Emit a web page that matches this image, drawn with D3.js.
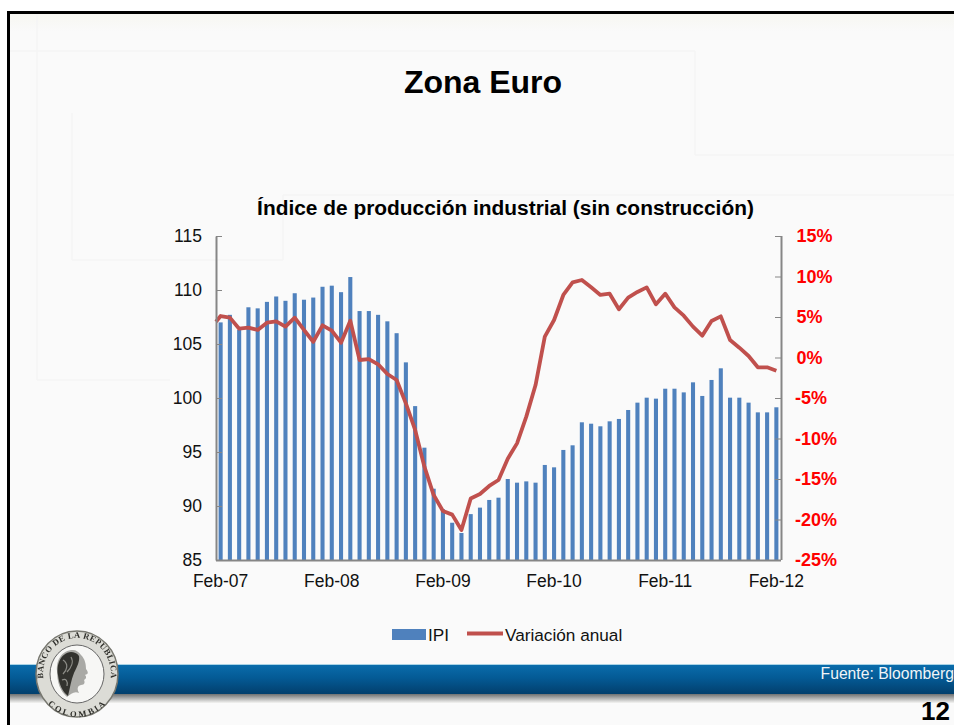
<!DOCTYPE html>
<html><head><meta charset="utf-8">
<style>html,body{margin:0;padding:0;background:#fff}svg{display:block}text{font-family:"Liberation Sans",Arial,sans-serif}</style>
<script src="https://cdn.jsdelivr.net/npm/d3@7/dist/d3.min.js"></script></head>
<body><svg id="c" width="954" height="725"></svg>
<script>
const months = ["Feb-07","Mar-07","Apr-07","May-07","Jun-07","Jul-07","Aug-07","Sep-07","Oct-07","Nov-07","Dec-07","Jan-08",
"Feb-08","Mar-08","Apr-08","May-08","Jun-08","Jul-08","Aug-08","Sep-08","Oct-08","Nov-08","Dec-08","Jan-09",
"Feb-09","Mar-09","Apr-09","May-09","Jun-09","Jul-09","Aug-09","Sep-09","Oct-09","Nov-09","Dec-09","Jan-10",
"Feb-10","Mar-10","Apr-10","May-10","Jun-10","Jul-10","Aug-10","Sep-10","Oct-10","Nov-10","Dec-10","Jan-11",
"Feb-11","Mar-11","Apr-11","May-11","Jun-11","Jul-11","Aug-11","Sep-11","Oct-11","Nov-11","Dec-11","Jan-12","Feb-12"];
const ipi = [107.0,107.7,106.3,108.4,108.3,108.9,109.4,109.0,109.7,109.1,109.3,110.3,
110.4,109.8,111.2,108.05,108.05,107.7,107.1,106.0,103.3,99.25,95.4,91.6,
89.7,88.45,87.5,89.25,89.85,90.56,90.77,92.5,92.16,92.28,92.16,93.8,
93.58,95.19,95.62,97.75,97.62,97.38,97.84,98.06,98.89,99.57,100.03,99.94,
100.86,100.86,100.52,101.45,100.19,101.67,102.75,100.03,100.03,99.57,98.67,98.67,99.14];
const variacion = [5.12,4.92,3.56,3.68,3.40,4.30,4.47,3.81,4.92,3.40,1.95,3.97,
3.31,1.83,4.55,-0.31,-0.19,-0.84,-2.04,-2.78,-5.66,-8.95,-13.48,-16.98,
-18.95,-19.4,-21.3,-17.4,-16.85,-15.86,-15.12,-12.49,-10.6,-7.3,-3.4,2.57,
4.63,7.72,9.28,9.57,8.66,7.72,7.88,5.95,7.39,8.09,8.66,6.56,
7.88,6.19,5.16,3.81,2.70,4.51,5.08,2.16,1.21,0.19,-1.21,-1.21,-1.63];
const variacionAtAxis = 4.42;
const leftTicks = [85,90,95,100,105,110,115];
const rightTicks = [-25,-20,-15,-10,-5,0,5,10,15];
const xLabels = ["Feb-07","Feb-08","Feb-09","Feb-10","Feb-11","Feb-12"];
const legendLabels = ["IPI","Variación anual"];
const titleText = "Zona Euro";
const subtitleText = "Índice de producción industrial (sin construcción)";
const sourceText = "Fuente: Bloomberg";
const pageNumber = "12";

const svg = d3.select("#c");
const defs = svg.append("defs");
const bandG = defs.append("linearGradient").attr("id","band").attr("x1",0).attr("x2",0).attr("y1",0).attr("y2",1);
[[0,"#0a6cab"],[0.45,"#045a95"],[1,"#023f6d"]].forEach(s=>bandG.append("stop").attr("offset",s[0]).attr("stop-color",s[1]));
const shG = defs.append("linearGradient").attr("id","shadow").attr("x1",0).attr("x2",0).attr("y1",0).attr("y2",1);
[[0,"#6f7172"],[1,"#f4f4f2"]].forEach(s=>shG.append("stop").attr("offset",s[0]).attr("stop-color",s[1]));
const bgG = defs.append("linearGradient").attr("id","bgTop").attr("x1",0).attr("x2",0).attr("y1",0).attr("y2",1);
[[0,"#f7f7f1"],[1,"#fafafa"]].forEach(s=>bgG.append("stop").attr("offset",s[0]).attr("stop-color",s[1]));
defs.append("filter").attr("id","soft").append("feGaussianBlur").attr("stdDeviation",0.6);

// slide background
svg.append("rect").attr("x",8).attr("y",12).attr("width",946).attr("height",713).attr("fill","#fafafa");
svg.append("rect").attr("x",8).attr("y",14).attr("width",946).attr("height",18).attr("fill","url(#bgTop)");
const faint = [[8,51,695,51],[695,51,695,155],[695,155,954,155],[37,14,37,380],[37,380,170,380],[72,113,72,260],[72,260,283,260],
[283,195,283,260],[283,195,954,195]];
svg.append("g").selectAll("line").data(faint).join("line")
  .attr("x1",d=>d[0]).attr("y1",d=>d[1]).attr("x2",d=>d[2]).attr("y2",d=>d[3])
  .attr("stroke","#f4f4f4").attr("stroke-width",1.5);

// footer band
svg.append("rect").attr("x",8).attr("y",694).attr("width",946).attr("height",9).attr("fill","url(#shadow)");
svg.append("rect").attr("x",8).attr("y",664).attr("width",946).attr("height",1).attr("fill","#a9d3e6");
svg.append("rect").attr("x",8).attr("y",665).attr("width",946).attr("height",29).attr("fill","url(#band)");
// slide frame
svg.append("path").attr("d","M8.5,725V12.5H954").attr("fill","none").attr("stroke","#000").attr("stroke-width",3);

// chart
const M = {l:216,r:781,t:236,b:560};
const x = d3.scaleBand().domain(months).range([M.l,M.r]).paddingInner(0.56).paddingOuter(0.28);
const xc = d3.scalePoint().domain(months).range([M.l+(M.r-M.l)/months.length/2, M.r-(M.r-M.l)/months.length/2]);
const yL = d3.scaleLinear().domain([85,115]).range([M.b,M.t]);
const yR = d3.scaleLinear().domain([-25,15]).range([M.b,M.t]);

svg.append("g").selectAll("rect").data(months).join("rect")
  .attr("x",d=>xc(d)-x.bandwidth()/2).attr("width",x.bandwidth())
  .attr("y",(d,i)=>yL(ipi[i])).attr("height",(d,i)=>M.b-yL(ipi[i]))
  .attr("fill","#4f81bd");

const linePts = [[M.l,yR(variacionAtAxis)]].concat(months.map((m,i)=>[xc(m),yR(variacion[i])]));
svg.append("path").attr("d",d3.line()(linePts)).attr("fill","none")
  .attr("stroke","#c0504d").attr("stroke-width",3.8).attr("stroke-linejoin","round");

const axisCol="#868686";
const axL = svg.append("g").attr("transform",`translate(${M.l},0)`).call(d3.axisLeft(yL).tickValues([]).tickSize(0));
axL.select(".domain").attr("stroke",axisCol).attr("stroke-width",2);
const gridL = svg.append("g").attr("transform",`translate(${M.l},0)`).call(d3.axisRight(yL).tickValues(leftTicks).tickSize(6).tickFormat(""));
gridL.select(".domain").remove(); gridL.selectAll("line").attr("stroke",axisCol);
const axR = svg.append("g").attr("transform",`translate(${M.r},0)`).call(d3.axisLeft(yR).tickValues(rightTicks).tickSize(6).tickFormat(""));
axR.select(".domain").attr("stroke",axisCol).attr("stroke-width",2).attr("d",`M0.5,${M.t}V${M.b}`);
axR.selectAll("line").attr("stroke",axisCol);
svg.append("line").attr("x1",M.l).attr("x2",M.r).attr("y1",M.b+.5).attr("y2",M.b+.5).attr("stroke",axisCol).attr("stroke-width",2);

svg.append("g").selectAll("text").data(leftTicks).join("text")
  .attr("x",M.l-14).attr("y",d=>yL(d)+6).attr("text-anchor","end").attr("font-size",17.5).attr("fill","#111").text(d=>d);
svg.append("g").selectAll("text").data(rightTicks).join("text")
  .attr("x",d=>d<0?795:796.5).attr("y",d=>yR(d)+6).attr("font-size",18).attr("font-weight","bold").attr("fill","#ff0000").text(d=>d+"%");
svg.append("g").selectAll("text").data(xLabels).join("text")
  .attr("x",d=>xc(d)).attr("y",587).attr("text-anchor","middle").attr("font-size",17.5).attr("fill","#111").text(d=>d);

svg.append("text").attr("x",483).attr("y",93).attr("text-anchor","middle").attr("font-size",32).attr("font-weight","bold").attr("fill","#000").text(titleText);
svg.append("text").attr("x",505.5).attr("y",215).attr("text-anchor","middle").attr("font-size",20.9).attr("font-weight","bold").attr("fill","#000").text(subtitleText);

// legend
svg.append("rect").attr("x",392).attr("y",629).attr("width",34).attr("height",11).attr("fill","#4f81bd");
svg.append("text").attr("x",428).attr("y",641).attr("font-size",17.2).attr("fill","#111").text(legendLabels[0]);
svg.append("line").attr("x1",467).attr("x2",503).attr("y1",633.5).attr("y2",633.5).attr("stroke","#c0504d").attr("stroke-width",3.8);
svg.append("text").attr("x",505).attr("y",641).attr("font-size",17.2).attr("fill","#111").text(legendLabels[1]);

// source + page
svg.append("text").attr("x",954).attr("y",679).attr("text-anchor","end").attr("font-size",15.7).attr("fill","#f0f4f7").text(sourceText);
svg.append("text").attr("x",950).attr("y",719.5).attr("text-anchor","end").attr("font-size",26).attr("font-weight","bold").attr("fill","#000").text(pageNumber);

// seal
const seal = svg.append("g").attr("transform","translate(77,674)").attr("filter","url(#soft)");
seal.append("ellipse").attr("rx",41).attr("ry",43).attr("fill","#dcdcd6").attr("stroke","#77776f").attr("stroke-width",1.5);
seal.append("ellipse").attr("rx",27).attr("ry",29).attr("fill","#f7f7f5").attr("stroke","#666").attr("stroke-width",1);
defs.append("path").attr("id","arcTop").attr("d","M-32,12A34,36 0 1 1 32,12");
defs.append("path").attr("id","arcBot").attr("d","M-28,21A34,36 0 0 0 28,21");
seal.append("text").attr("font-size",8.5).attr("font-weight","bold").attr("fill","#2e2e2a").attr("letter-spacing",.4)
  .style("font-family","'Liberation Serif',serif").append("textPath").attr("href","#arcTop").attr("startOffset","50%").attr("text-anchor","middle").text("BANCO DE LA REPUBLICA");
seal.append("text").attr("font-size",8.5).attr("font-weight","bold").attr("fill","#2e2e2a").attr("letter-spacing",1)
  .style("font-family","'Liberation Serif',serif").append("textPath").attr("href","#arcBot").attr("startOffset","50%").attr("text-anchor","middle").attr("dominant-baseline","hanging").text("COLOMBIA");
seal.append("path").attr("d","M-4,-24C-15,-24 -21,-14 -20,-3C-20,8 -17,17 -10,23C-6,20 -3,17 2,19C0,15 0,12 4,11C8,11 8,8 7,6C9,5 10,3 8,1C11,0 12,-1 9,-5C9,-10 8,-15 4,-19C2,-22 -1,-24 -4,-24Z").attr("fill","#a9a9a5");
seal.append("path").attr("d","M-6,-22C-16,-21 -21,-10 -19,1C-18,10 -15,17 -9,22C-7,14 -6,6 -3,-1C0,-7 3,-13 2,-18C0,-21 -3,-22 -6,-22Z").attr("fill","#33332f");
seal.append("path").attr("d","M-14,-14C-8,-10 -10,-4 -14,0M-6,-17C-3,-12 -6,-6 -10,-2M-15,6C-11,4 -9,7 -10,12").attr("fill","none").attr("stroke","#8d8d88").attr("stroke-width",1.2);
</script></body></html>
